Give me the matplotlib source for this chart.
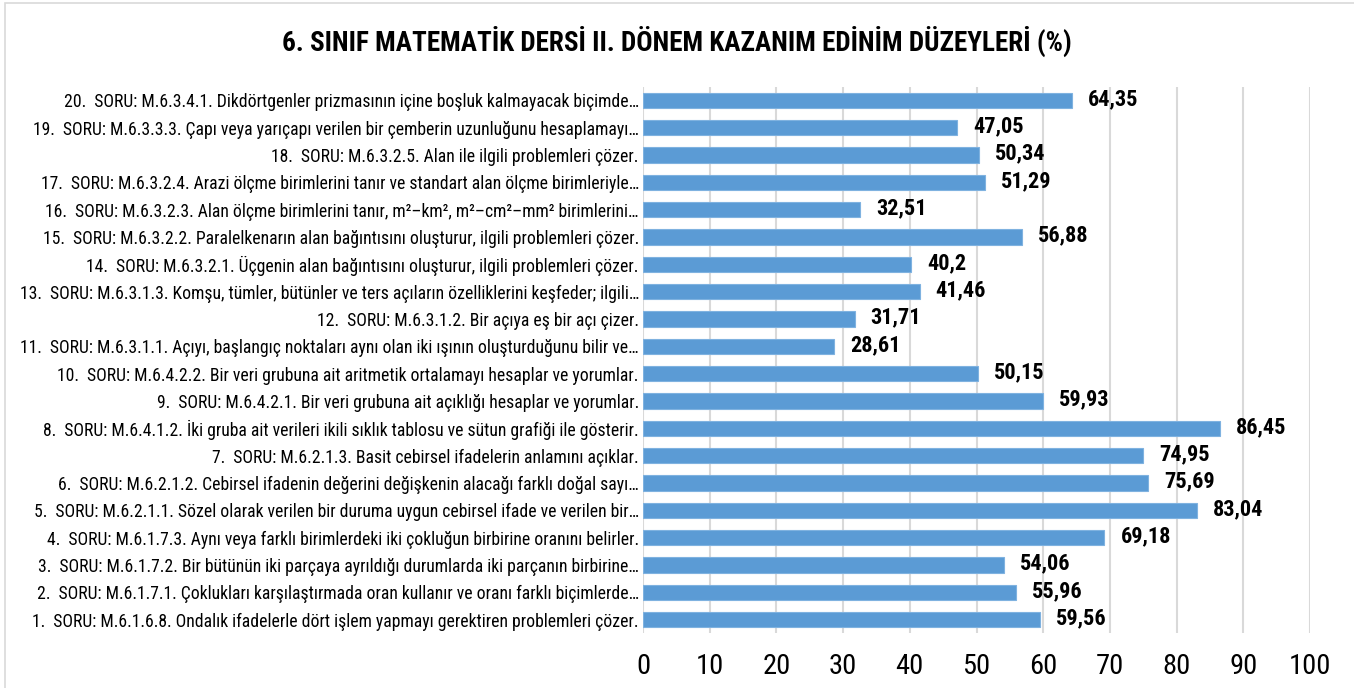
import matplotlib
matplotlib.use("Agg")
import matplotlib.pyplot as plt
from matplotlib.patches import Rectangle

questions = [
    "1.  SORU: M.6.1.6.8. Ondalık ifadelerle dört işlem yapmayı gerektiren problemleri çözer.",
    "2.  SORU: M.6.1.7.1. Çoklukları karşılaştırmada oran kullanır ve oranı farklı biçimlerde…",
    "3.  SORU: M.6.1.7.2. Bir bütünün iki parçaya ayrıldığı durumlarda iki parçanın birbirine…",
    "4.  SORU: M.6.1.7.3. Aynı veya farklı birimlerdeki iki çokluğun birbirine oranını belirler.",
    "5.  SORU: M.6.2.1.1. Sözel olarak verilen bir duruma uygun cebirsel ifade ve verilen bir…",
    "6.  SORU: M.6.2.1.2. Cebirsel ifadenin değerini değişkenin alacağı farklı doğal sayı…",
    "7.  SORU: M.6.2.1.3. Basit cebirsel ifadelerin anlamını açıklar.",
    "8.  SORU: M.6.4.1.2. İki gruba ait verileri ikili sıklık tablosu ve sütun grafiği ile gösterir.",
    "9.  SORU: M.6.4.2.1. Bir veri grubuna ait açıklığı hesaplar ve yorumlar.",
    "10.  SORU: M.6.4.2.2. Bir veri grubuna ait aritmetik ortalamayı hesaplar ve yorumlar.",
    "11.  SORU: M.6.3.1.1. Açıyı, başlangıç noktaları aynı olan iki ışının oluşturduğunu bilir ve…",
    "12.  SORU: M.6.3.1.2. Bir açıya eş bir açı çizer.",
    "13.  SORU: M.6.3.1.3. Komşu, tümler, bütünler ve ters açıların özelliklerini keşfeder; ilgili…",
    "14.  SORU: M.6.3.2.1. Üçgenin alan bağıntısını oluşturur, ilgili problemleri çözer.",
    "15.  SORU: M.6.3.2.2. Paralelkenarın alan bağıntısını oluşturur, ilgili problemleri çözer.",
    "16.  SORU: M.6.3.2.3. Alan ölçme birimlerini tanır, m²–km², m²–cm²–mm² birimlerini…",
    "17.  SORU: M.6.3.2.4. Arazi ölçme birimlerini tanır ve standart alan ölçme birimleriyle…",
    "18.  SORU: M.6.3.2.5. Alan ile ilgili problemleri çözer.",
    "19.  SORU: M.6.3.3.3. Çapı veya yarıçapı verilen bir çemberin uzunluğunu hesaplamayı…",
    "20.  SORU: M.6.3.4.1. Dikdörtgenler prizmasının içine boşluk kalmayacak biçimde…",
]
scores = [59.56, 55.96, 54.06, 69.18, 83.04, 75.69, 74.95, 86.45, 59.93, 50.15,
          28.61, 31.71, 41.46, 40.2, 56.88, 32.51, 51.29, 50.34, 47.05, 64.35]
x_ticks = [0, 10, 20, 30, 40, 50, 60, 70, 80, 90, 100]
title = "6. SINIF MATEMATİK DERSİ II. DÖNEM KAZANIM EDİNİM DÜZEYLERİ (%)"

plt.rcParams["font.family"] = ["Roboto Condensed", "Liberation Sans", "DejaVu Sans"]

fig = plt.figure(figsize=(13.54, 6.88), dpi=100)
ax = fig.add_axes([643 / 1354, 1 - 633.3 / 688, (1310 - 643) / 1354, (633.3 - 86.7) / 688])

pos = list(range(len(scores)))
ax.barh(pos, scores, height=0.56, color="#5B9BD5", edgecolor="#7FB2E0", linewidth=0.8, zorder=3)
for p, v in zip(pos, scores):
    label = f"{v:g}".replace(".", ",")
    ax.text(v + 2.4, p + 0.05, label, va="center", ha="left", fontsize=16,
            fontweight="bold", color="black", zorder=4)

ax.set_xlim(0, 100)
ax.set_ylim(-0.5, len(scores) - 0.5)
ax.set_xticks(x_ticks)
ax.set_yticks(pos)
ax.set_yticklabels(questions, fontsize=12.7)
ax.tick_params(axis="x", length=0, pad=14, labelsize=20.5)
ax.tick_params(axis="y", length=0, pad=3)
ax.grid(axis="x", color="#D9D9D9", linewidth=1.5, zorder=0)
for s in ax.spines.values():
    s.set_visible(False)

fig.text(0.5, 1 - 41 / 688, title, ha="center", va="center", fontsize=19.5, fontweight="bold")
fig.patches.append(Rectangle((5 / 1354, -0.01), 1.0, 1 - 3 / 688 + 0.01, transform=fig.transFigure,
                             fill=False, edgecolor="#D9D9D9", linewidth=1.2, clip_on=False))

fig.savefig("out.png", dpi=100)
